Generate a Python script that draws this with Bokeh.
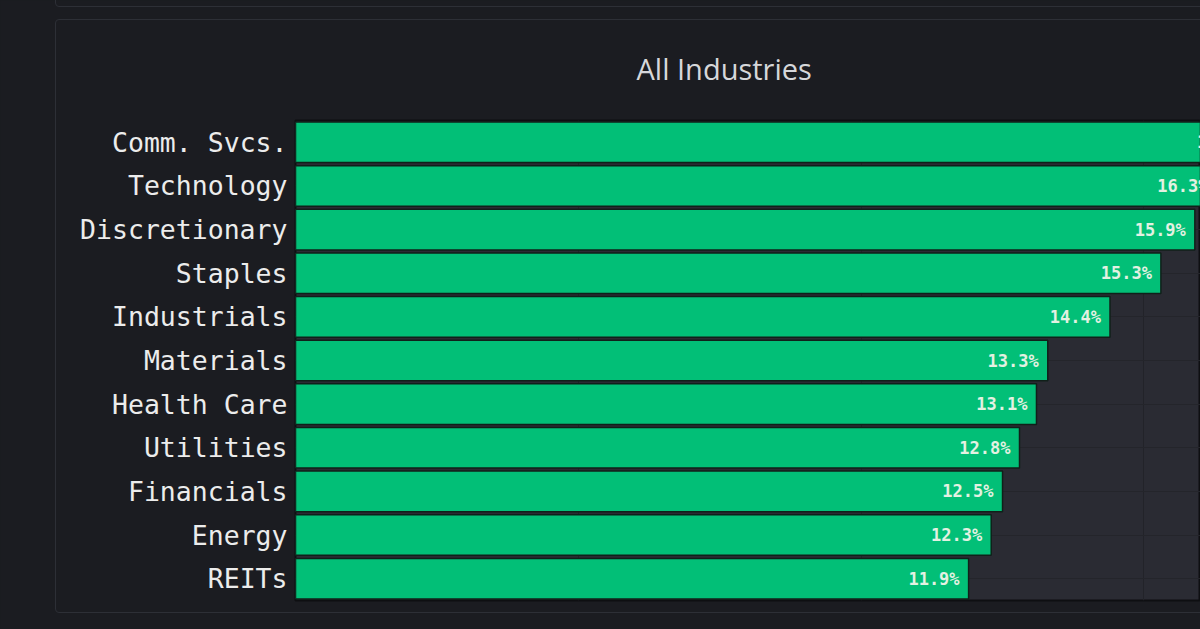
from bokeh.plotting import figure
from bokeh.models import ColumnDataSource, FixedTicker, Title
from bokeh.core.properties import value
from bokeh.embed import file_html
from bokeh.resources import INLINE

# ---- data ----
sectors = ["Comm. Svcs.", "Technology", "Discretionary", "Staples", "Industrials",
           "Materials", "Health Care", "Utilities", "Financials", "Energy", "REITs"]
returns_pct = [17.0, 16.3, 15.9, 15.3, 14.4, 13.3, 13.1, 12.8, 12.5, 12.3, 11.9]
title_text = "All Industries"
grid_ticks = [5, 10, 15]

labels = [f"{v:.1f}%" for v in returns_pct]
src = ColumnDataSource(dict(sector=sectors, val=returns_pct, lab=labels))

BG = "#1b1c21"
PLOT_BG = "#2a2b33"
GREEN = "#02bf77"

p = figure(width=1200, height=629, y_range=list(reversed(sectors)),
           x_range=(0, 16.0), output_backend="svg", toolbar_location=None,
           min_border_left=295, min_border_right=0, min_border_top=120,
           min_border_bottom=29)
p.background_fill_color = PLOT_BG
p.border_fill_color = BG
p.outline_line_color = "#0e0f12"
p.outline_line_width = 2

p.title = Title(text=title_text, align="left", offset=341, standoff=65,
                text_font="Open Sans", text_font_size="29px",
                text_font_style="normal", text_color="#d6d7da")

p.hbar(y="sector", right="val", left=0, height=0.93, source=src,
       fill_color=GREEN, line_color="#10201a", line_width=1.5)

p.text(x="val", y="sector", text="lab", source=src, x_offset=-9,
       text_align="right", text_baseline="middle",
       text_font=value("DejaVu Sans Mono"), text_font_size="17px",
       text_font_style="bold", text_color="#e3f1e2")

p.xaxis.visible = False
p.xgrid.ticker = FixedTicker(ticks=grid_ticks)
p.xgrid.grid_line_color = "#222329"
p.xgrid.grid_line_width = 1
p.ygrid.grid_line_color = "#24252b"
p.ygrid.grid_line_width = 1

ya = p.yaxis[0]
ya.axis_line_color = None
ya.major_tick_line_color = None
ya.minor_tick_line_color = None
ya.major_label_text_font = "DejaVu Sans Mono"
ya.major_label_text_font_size = "26.5px"
ya.major_label_text_color = "#ececec"
ya.major_label_standoff = 2

html = file_html(p, INLINE)
css = ("<style>html,body{background:#1b1c21;overflow:hidden;}"
       "body::before{content:'';position:fixed;left:55px;top:-12px;width:1200px;height:17px;"
       "border:1px solid #2d2f36;border-radius:4px;pointer-events:none;z-index:5;}"
       "body::after{content:'';position:fixed;left:55px;top:19px;width:1200px;height:592px;"
       "border:1px solid #2d2f36;border-radius:4px;pointer-events:none;z-index:5;}</style></head>")
html = html.replace("</head>", css, 1)
open("out.html", "w").write(html)
